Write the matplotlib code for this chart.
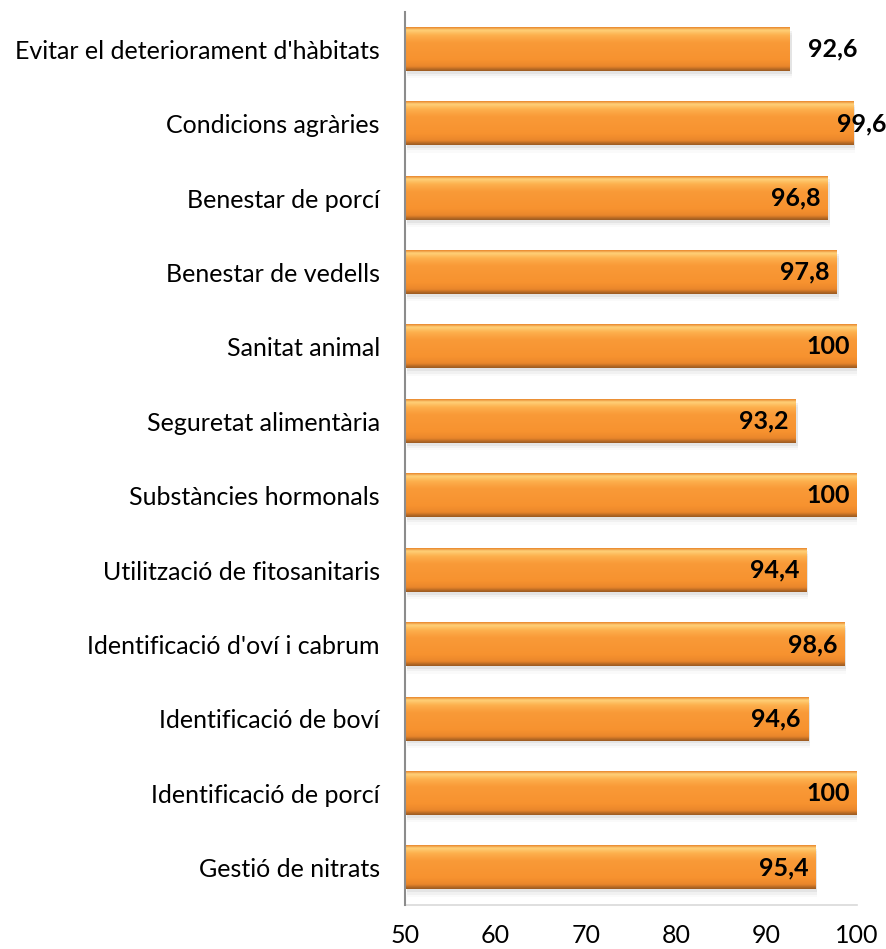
import matplotlib.pyplot as plt
import numpy as np
from matplotlib.colors import LinearSegmentedColormap

# categories from top to bottom
categories = ["Evitar el deteriorament d'hàbitats",
              "Condicions agràries",
              "Benestar de porcí",
              "Benestar de vedells",
              "Sanitat animal",
              "Seguretat alimentària",
              "Substàncies hormonals",
              "Utilització de fitosanitaris",
              "Identificació d'oví i cabrum",
              "Identificació de boví",
              "Identificació de porcí",
              "Gestió de nitrats"]
values = [92.6, 99.6, 96.8, 97.8, 100, 93.2, 100, 94.4, 98.6, 94.6, 100, 95.4]
labels = ["92,6", "99,6", "96,8", "97,8", "100", "93,2", "100", "94,4", "98,6", "94,6", "100", "95,4"]
xticks = [50, 60, 70, 80, 90, 100]

plt.rcParams['font.family'] = ['Lato', 'DejaVu Sans']

fig = plt.figure(figsize=(8.86, 9.49), dpi=100)
ax = fig.add_axes([0.457, 0.0464, 0.510, 0.941])

ypos = np.arange(len(categories))
h = 0.58
bars = ax.barh(ypos, [v - 50 for v in values], left=50, height=h, color='none', zorder=3)

# orange gradient, light on top, darker at the bottom
cmap = LinearSegmentedColormap.from_list('orng', [
    (0.0, '#E8862C'), (0.06, '#FFD27A'), (0.18, '#FDB04D'), (0.35, '#F99A38'),
    (0.75, '#F7922F'), (0.9, '#E9862B'), (0.96, '#B86A24'), (1.0, '#9A5A22')])
grad = np.linspace(0, 1, 100).reshape(-1, 1)

for b in bars:
    x0, y0 = b.get_x(), b.get_y()
    w, hh = b.get_width(), b.get_height()
    # soft shadow under the bar
    for k, a in enumerate([0.10, 0.07, 0.04]):
        ax.add_patch(plt.Rectangle((x0 + 0.25, y0 + 0.04 + 0.03 * k), w, hh,
                                   color='#808080', alpha=a, lw=0, zorder=1))
    ax.imshow(grad, extent=(x0, x0 + w, y0 + hh, y0), aspect='auto',
              cmap=cmap, zorder=2, interpolation='bicubic')

for i, (v, lab) in enumerate(zip(values, labels)):
    if i == 0:
        ax.annotate(lab, (v, i), xytext=(18, 0), textcoords='offset pixels',
                    ha='left', va='center', fontsize=18, fontweight='bold', zorder=5)
    elif i == 1:
        ax.annotate(lab, (v, i), xytext=(33, 0), textcoords='offset pixels',
                    ha='right', va='center', fontsize=18, fontweight='bold', zorder=5)
    else:
        ax.annotate(lab, (v, i), xytext=(-7, 0), textcoords='offset pixels',
                    ha='right', va='center', fontsize=18, fontweight='bold', zorder=5)

ax.set_xlim(50, 100)
ax.set_ylim(len(categories) - 0.5, -0.5)
ax.set_yticks(ypos)
ax.set_yticklabels(categories, fontsize=18)
ax.set_xticks(xticks)
ax.set_xticklabels([str(t) for t in xticks], fontsize=18)
ax.tick_params(axis='both', length=0)
ax.tick_params(axis='x', pad=14)
ax.tick_params(axis='y', pad=18)

for s in ['top', 'right']:
    ax.spines[s].set_visible(False)
ax.spines['left'].set_color('#8C8C8C')
ax.spines['left'].set_linewidth(1.5)
ax.spines['left'].set_zorder(4)
ax.spines['bottom'].set_color('#D9D9D9')
ax.spines['bottom'].set_linewidth(1.2)

fig.savefig('out.png', dpi=100)
